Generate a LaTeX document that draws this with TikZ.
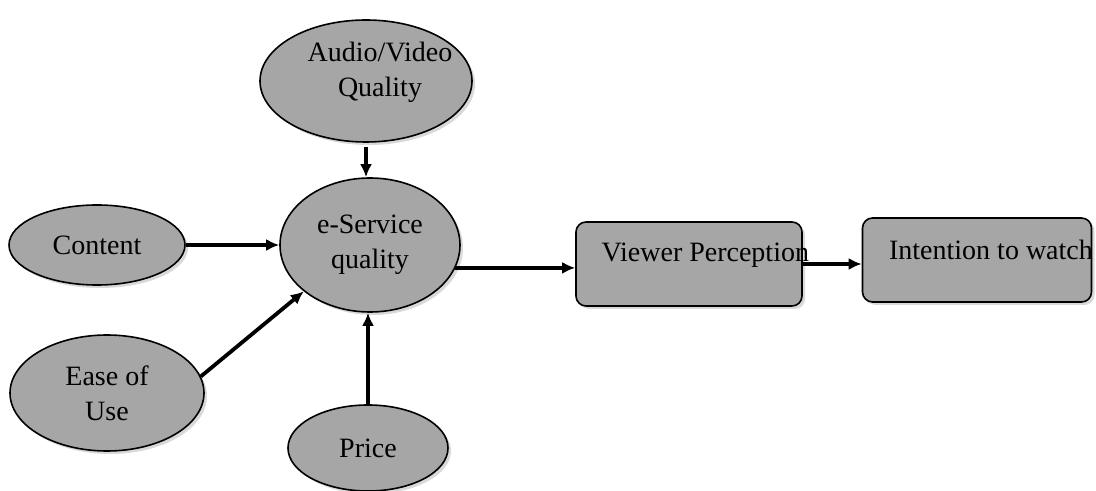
\documentclass[tikz,border=0pt]{standalone}
\usepackage{fontspec}
\setmainfont{Liberation Serif}
\usetikzlibrary{shapes.geometric,shadows,arrows.meta}

\definecolor{ovalgray}{RGB}{166,166,166}

\begin{document}
\begin{tikzpicture}[x=0.5pt,y=-0.5pt]
        \tikzstyle{every node}=[font=\fontsize{14}{17.5}\selectfont]
        \tikzstyle{oval}=[ellipse,draw,line width=0.8pt,fill=ovalgray,inner sep=0pt,
            drop shadow={opacity=0.3,shadow xshift=1.5pt,shadow yshift=-1.5pt}]
        \tikzstyle{box}=[rectangle,rounded corners=5pt,draw,line width=0.8pt,fill=ovalgray,
            minimum height=42pt,
            drop shadow={opacity=0.3,shadow xshift=1.5pt,shadow yshift=-1.5pt}]
        \tikzstyle{boxtext}=[anchor=west,inner sep=0pt]
        \tikzstyle{arr}=[line width=1.9pt,-{Latex[length=6.5pt,width=6pt]}]

        \useasboundingbox (0,0) rectangle (1096,491);
        \clip (0,0) rectangle (1096,491);

        %the factors round the centre
        \node [oval,minimum width=106pt,minimum height=61pt] (audio) at (366,81) {};
        \node [align=center,xshift=7pt,yshift=4.5pt] (audiotxt) at (audio) {Audio/Video\\Quality};
        \node [oval,minimum width=90pt,minimum height=67pt,align=center] (eserv) at (370,245) {e-Service\\quality};
        \node [oval,minimum width=88pt,minimum height=40pt] (content) at (97,245) {Content};
        \node [oval,minimum width=97pt,minimum height=58pt,align=center] (ease) at (107,393) {Ease of\\Use};
        \node [oval,minimum width=80pt,minimum height=43pt] (price) at (368,448) {Price};

        %the two boxes on the right
        \node [box,minimum width=113pt] (viewer) at (689,264) {};
        \node [boxtext] (viewertxt) at ([xshift=13pt,yshift=4.5pt]viewer.west) {Viewer Perception};
        \node [box,minimum width=114.5pt] (intent) at (977,260) {};
        \node [boxtext] (intenttxt) at ([xshift=13.5pt,yshift=5pt]intent.west) {Intention to watch};

        %arrows
        \draw [arr] ([yshift=-2pt]audio.south) -- (audio.south |- eserv.north);
        \draw [arr] (content.east) -- (eserv.west);
        \draw [arr] (ease.10) -- (eserv.215);
        \draw [arr] (price.north) -- (price.north |- eserv.south);
        \draw [arr] (eserv.-15) -- (eserv.-15 -| viewer.west);
        \draw [arr] (viewer.east) -- (viewer.east -| intent.west);
\end{tikzpicture}
\end{document}
